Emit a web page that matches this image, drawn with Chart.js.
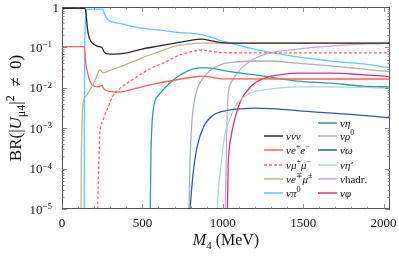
<!DOCTYPE html>
<html>
<head>
<meta charset="utf-8">
<script src="https://cdn.jsdelivr.net/npm/chart.js@4.4.1/dist/chart.umd.min.js"></script>
<style>
  html, body { margin: 0; padding: 0; background: #fff; }
</style>
</head>
<body>
<canvas id="brChart" width="399" height="259"></canvas>
<script>
// M4 in MeV, branching ratios
const mNuNuNu = [0, 139, 146, 151, 155, 160, 170, 187, 218, 245, 252, 262, 280, 330, 393, 498, 598, 704, 800, 870, 930, 990, 1100, 1500, 2040];
const brNuNuNu = [0.93, 0.93, 0.85, 0.6, 0.4, 0.26, 0.17, 0.13, 0.108, 0.1, 0.095, 0.077, 0.069, 0.068, 0.072, 0.091, 0.108, 0.128, 0.15, 0.16, 0.145, 0.132, 0.128, 0.128, 0.128];

const mEE = [0, 1.5, 138, 142, 148, 156, 170, 187, 224, 249, 258, 268, 300, 349, 420, 498, 598, 704, 800, 870, 940, 1000, 1500, 2040];
const brEE = [1e-6, 0.105, 0.105, 0.07, 0.04, 0.027, 0.016, 0.0118, 0.0105, 0.0115, 0.0098, 0.0088, 0.0082, 0.0078, 0.0088, 0.0105, 0.013, 0.0156, 0.018, 0.0195, 0.018, 0.0167, 0.0165, 0.0165];

const mMuMu = [218, 222, 228, 237, 250, 268, 287, 312, 349, 436, 536, 642, 704, 800, 870, 930, 1000, 1500, 2040];
const brMuMu = [1e-6, 1e-5, 1e-4, 9e-4, 1.4e-3, 2.2e-3, 3.3e-3, 5.9e-3, 8.8e-3, 0.0156, 0.028, 0.043, 0.058, 0.077, 0.086, 0.08, 0.074, 0.073, 0.073];

const mEMu = [117, 120, 124, 129, 136, 143, 174, 206, 237, 245, 255, 268, 300, 393, 498, 598, 704, 800, 870, 1000, 1500, 2040];
const brEMu = [1e-6, 1e-4, 1e-3, 3.5e-3, 5e-3, 5.6e-3, 8.8e-3, 0.0156, 0.0276, 0.026, 0.0235, 0.024, 0.027, 0.037, 0.055, 0.077, 0.108, 0.122, 0.127, 0.128, 0.128, 0.128];

const mPi0 = [138, 139.5, 141, 144, 150, 158, 200, 248, 258, 268, 287, 312, 374, 498, 642, 704, 860, 930, 980, 1047, 1150, 1253, 1464, 1670, 1875, 2040];
const brPi0 = [1e-6, 1e-3, 0.05, 0.3, 0.7, 0.87, 0.89, 0.89, 0.8, 0.62, 0.48, 0.43, 0.38, 0.3, 0.26, 0.24, 0.21, 0.18, 0.15, 0.128, 0.1, 0.081, 0.058, 0.046, 0.039, 0.031];

const mEta = [547, 550, 553, 560, 575, 600, 629, 704, 780, 860, 900, 1047, 1253, 1464, 1670, 1875, 2040];
const brEta = [1e-6, 2e-5, 2e-4, 1.3e-3, 4.2e-3, 6.5e-3, 8.9e-3, 0.017, 0.026, 0.031, 0.031, 0.025, 0.0195, 0.0147, 0.013, 0.011, 0.0105];

const mRho = [785, 790, 795, 805, 820, 840, 860, 922, 984, 1065, 1277, 1464, 1670, 1875, 2040];
const brRho = [1e-6, 1e-5, 1e-4, 1e-3, 4e-3, 9e-3, 0.0138, 0.027, 0.037, 0.043, 0.046, 0.041, 0.035, 0.029, 0.025];

const mOmega = [793, 797, 800, 816, 840, 880, 940, 1015, 1109, 1200, 1300, 1564, 1800, 2040];
const brOmega = [1e-6, 1e-5, 1.5e-5, 8e-5, 3.4e-4, 1.07e-3, 2.1e-3, 2.7e-3, 3.0e-3, 3.15e-3, 3.05e-3, 2.55e-3, 2.2e-3, 1.8e-3];

const mEtaP = [960, 966, 984, 1015, 1047, 1078, 1109, 1171, 1253, 1464, 1670, 2040];
const brEtaP = [1e-6, 1e-5, 8e-5, 7.6e-4, 1.8e-3, 3.5e-3, 5e-3, 7.5e-3, 8.8e-3, 0.0105, 0.0105, 0.0098];

const mHadr = [1013, 1016, 1020, 1025, 1030, 1036, 1050, 1090, 1153, 1253, 1464, 1670, 2040];
const brHadr = [1e-6, 1e-5, 1e-4, 1e-3, 4e-3, 8.5e-3, 0.013, 0.023, 0.041, 0.065, 0.091, 0.108, 0.128];

const mPhi = [1026, 1029, 1033, 1040, 1047, 1078, 1109, 1171, 1253, 1350, 1464, 1670, 1875, 2040];
const brPhi = [1e-6, 1e-5, 1e-4, 3e-4, 5e-4, 1.9e-3, 4.5e-3, 0.0105, 0.017, 0.021, 0.023, 0.023, 0.021, 0.019];

const xMajor = [0, 500, 1000, 1500, 2000];
const yDecades = [0, -1, -2, -3, -4, -5];

const series = [
  { label: 'ννν', tex: 'ννν', m: mNuNuNu, br: brNuNuNu, color: '#2b2b2b', dash: [] },
  { label: 'νe+e−', tex: 'νe^+e^−', m: mEE, br: brEE, color: '#fb5f5f', dash: [] },
  { label: 'νμ+μ−', tex: 'νμ^+μ^−', m: mMuMu, br: brMuMu, color: '#fb6a6a', dash: [3, 2] },
  { label: 'νe∓μ±', tex: 'νe^∓μ^±', m: mEMu, br: brEMu, color: '#c2b38f', dash: [] },
  { label: 'νπ0', tex: 'νπ^0', m: mPi0, br: brPi0, color: '#5ccaf5', dash: [] },
  { label: 'νη', tex: 'νη', m: mEta, br: brEta, color: '#2e9ea0', dash: [] },
  { label: 'νρ0', tex: 'νρ^0', m: mRho, br: brRho, color: '#a8afb7', dash: [] },
  { label: 'νω', tex: 'νω', m: mOmega, br: brOmega, color: '#3b55a0', dash: [] },
  { label: "νη'", tex: 'νη′', m: mEtaP, br: brEtaP, color: '#aadcc6', dash: [] },
  { label: 'νhadr.', tex: 'ν~hadr.', m: mHadr, br: brHadr, color: '#c5a9db', dash: [] },
  { label: 'νφ', tex: 'νφ', m: mPhi, br: brPhi, color: '#e0306e', dash: [] }
];

const SERIF = '"Liberation Serif", "DejaVu Serif", serif';

// tiny markup: ~ toggles italic, ^x / _x super/subscript (roman), {..} groups
function parseRich(str, italic) {
  const parts = [];
  let it = italic;
  for (let i = 0; i < str.length; i++) {
    const ch = str[i];
    if (ch === '~') { it = !it; continue; }
    if (ch === '^' || ch === '_') {
      let t = str[i + 1];
      if (t === '{') { const j = str.indexOf('}', i); t = str.slice(i + 2, j); i = j; } else { i++; }
      parts.push({ t: t, s: ch === '^' ? 'sup' : 'sub', it: false });
      continue;
    }
    parts.push({ t: ch, s: 'n', it: it });
  }
  return parts;
}

function richText(ctx, str, x, y, size, align, italic, supShift) {
  const parts = parseRich(str, italic);
  const fontFor = p => (p.it ? 'italic ' : '') + (p.s === 'n' ? size : Math.round(size * 0.7)) + 'px ' + SERIF;
  let w = 0;
  parts.forEach(p => { ctx.font = fontFor(p); p.w = ctx.measureText(p.t).width; w += p.w; });
  let cx = align === 'center' ? x - w / 2 : align === 'right' ? x - w : x;
  ctx.textAlign = 'left';
  ctx.textBaseline = 'alphabetic';
  parts.forEach(p => {
    ctx.font = fontFor(p);
    const dy = p.s === 'sup' ? -size * (supShift || 0.4) : p.s === 'sub' ? size * 0.25 : 0;
    ctx.fillText(p.t, cx, y + dy);
    cx += p.w;
  });
}

const framePlugin = {
  id: 'frame',
  afterDraw(chart) {
    const ctx = chart.ctx;
    const a = chart.chartArea;
    const xs = chart.scales.x, ys = chart.scales.y;
    ctx.save();
    ctx.fillStyle = '#111';

    // frame
    ctx.strokeStyle = '#444';
    ctx.lineWidth = 0.9;
    ctx.strokeRect(a.left + 0.5, a.top + 0.5, a.right - a.left - 1, a.bottom - a.top - 1);

    // x ticks, inward on bottom and top
    ctx.strokeStyle = '#777';
    ctx.lineWidth = 0.8;
    ctx.beginPath();
    for (let v = 0; v <= 2000; v += 100) {
      const px = Math.round(xs.getPixelForValue(v)) + 0.5;
      const len = v % 500 === 0 ? 5 : 2.5;
      ctx.moveTo(px, a.bottom); ctx.lineTo(px, a.bottom - len);
      ctx.moveTo(px, a.top); ctx.lineTo(px, a.top + len);
    }
    // y ticks, log decades with minor ticks
    yDecades.forEach(k => {
      for (let d = 1; d <= 9; d++) {
        const v = d * Math.pow(10, k - 1);
        if (v < 1e-5 || v > 1) continue;
        const py = Math.round(ys.getPixelForValue(v)) + 0.5;
        const len = d === 1 ? 5 : 2.5;
        ctx.moveTo(a.left, py); ctx.lineTo(a.left + len, py);
        ctx.moveTo(a.right, py); ctx.lineTo(a.right - len, py);
      }
    });
    ctx.stroke();

    // x tick labels
    xMajor.forEach(v => {
      richText(ctx, '' + v, xs.getPixelForValue(v), a.bottom + 18, 13, 'center', false);
    });
    // y tick labels
    yDecades.forEach(k => {
      const py = ys.getPixelForValue(Math.pow(10, k));
      if (k === 0) richText(ctx, '1', 59, py + 4.5, 13, 'right', false);
      else richText(ctx, '10^{−' + (-k) + '}', 52, py + 4.5, 13, 'right', false, 0.35);
    });

    // axis titles
    richText(ctx, 'M_4~ (MeV)', (a.left + a.right) / 2, 245, 16, 'center', true);
    ctx.save();
    ctx.translate(21, (a.top + a.bottom) / 2);
    ctx.rotate(-Math.PI / 2);
    richText(ctx, 'BR(|~U_{μ4}~|^2\u2002≠\u20020)', 0, 0, 17, 'center', false);
    ctx.restore();

    // legend: left column 5 rows, right column 6 rows
    const leftCol = [0, 1, 2, 3, 4], rightCol = [5, 6, 7, 8, 9, 10];
    const rowY = [123, 136, 150, 165, 179, 193];
    const drawEntry = (idx, x0, y) => {
      const s = series[idx];
      ctx.strokeStyle = s.color;
      ctx.lineWidth = 1.5;
      ctx.setLineDash(s.dash);
      ctx.beginPath(); ctx.moveTo(x0, y); ctx.lineTo(x0 + 19, y); ctx.stroke();
      ctx.setLineDash([]);
      ctx.fillStyle = '#111';
      richText(ctx, s.tex, x0 + 22, y + 3.5, 11, 'left', true);
    };
    leftCol.forEach((idx, i) => drawEntry(idx, 264, rowY[i + 1]));
    rightCol.forEach((idx, i) => drawEntry(idx, 318, rowY[i]));
    ctx.restore();
  }
};

const ctx = document.getElementById('brChart').getContext('2d');
const chart = new Chart(ctx, {
  type: 'line',
  data: {
    datasets: series.map(s => ({
      label: s.label,
      data: s.m.map((m, i) => ({ x: m, y: s.br[i] })),
      borderColor: s.color,
      borderWidth: 1.3,
      borderDash: s.dash,
      pointRadius: 0,
      fill: false,
      cubicInterpolationMode: 'monotone'
    }))
  },
  options: {
    responsive: false,
    animation: false,
    layout: { padding: { left: 62, right: 9, top: 7, bottom: 50 } },
    plugins: { legend: { display: false }, tooltip: { enabled: false } },
    scales: {
      x: { type: 'linear', min: 0, max: 2040, display: false },
      y: { type: 'logarithmic', min: 1e-5, max: 1, display: false }
    }
  },
  plugins: [framePlugin]
});
</script>
</body>
</html>
